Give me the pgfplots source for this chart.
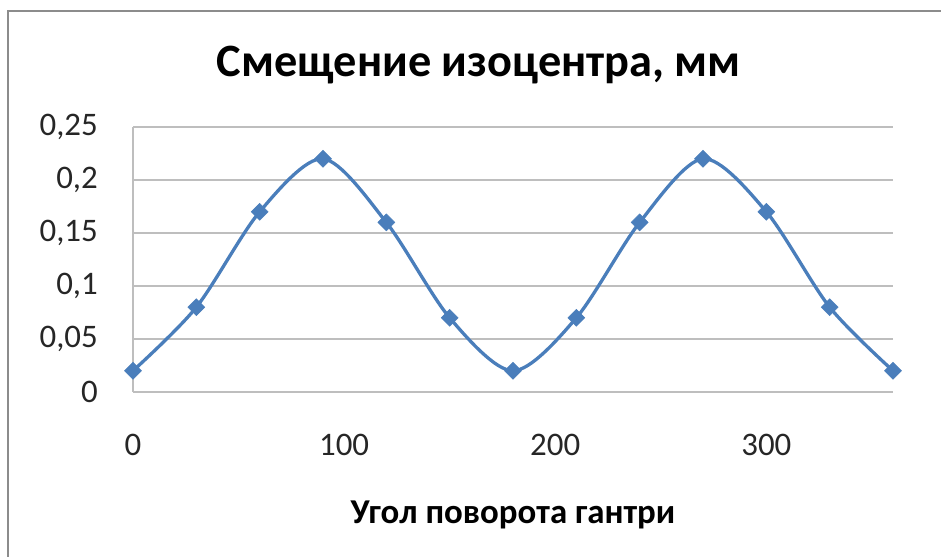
\documentclass[border=0pt]{standalone}
\usepackage{fontspec}
\setmainfont{Carlito}
\usepackage{pgfplots}
\pgfplotsset{compat=1.18}
\definecolor{serie}{HTML}{4A7EBB}
\definecolor{gridc}{HTML}{BEBEBE}
\definecolor{framec}{HTML}{8C8C8C}
\begin{document}
\begin{tikzpicture}[x=1bp,y=1bp]
\useasboundingbox (0,0) rectangle (941,557);
\fill[white] (0,0) rectangle (941,557);
\draw[framec, line width=2bp] (8,0) -- (8,546) -- (941,546);
\node[font=\fontsize{46.5}{54}\selectfont\bfseries] at (479,492) {Смещение изоцентра, мм};
\node[font=\fontsize{35}{42}\selectfont\bfseries] at (513,42) {Угол поворота гантри};
\begin{axis}[
  at={(133bp,165bp)}, anchor=south west,
  scale only axis, width=760bp, height=265bp,
  xmin=0, xmax=360, ymin=0, ymax=0.25,
  xtick={0,100,200,300}, ytick={0,0.05,0.1,0.15,0.2,0.25},
  major tick length=0pt,
  axis line style={draw=gridc, line width=1.3bp},
  axis x line*=bottom, axis y line*=left,
  ymajorgrids, grid style={draw=gridc, line width=1.3bp},
  /pgf/number format/assume math mode=true,
  /pgf/number format/use comma,
  yticklabel style={/pgf/number format/fixed, /pgf/number format/precision=2, anchor=east, inner sep=0pt, xshift=-35bp},
  xticklabel style={anchor=center, inner sep=0pt, yshift=-53bp},
  tick label style={font=\fontsize{33}{40}\selectfont, text=black!85},
  clip=false,
]
\addplot[serie, line width=3.3bp, smooth, mark=square*, mark size=6bp,
  mark options={rotate=45, solid, fill=serie, draw=serie, line width=0.5bp}]
  coordinates {(0,0.02) (30,0.08) (60,0.17) (90,0.22) (120,0.16) (150,0.07) (180,0.02) (210,0.07) (240,0.16) (270,0.22) (300,0.17) (330,0.08) (360,0.02)};
\end{axis}
\end{tikzpicture}
\end{document}
